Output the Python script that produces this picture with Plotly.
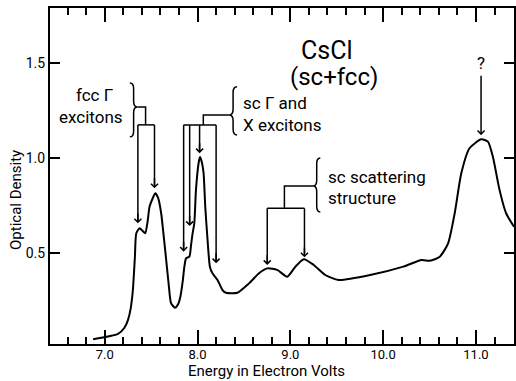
import plotly.graph_objects as go

# ---- data: CsCl optical density spectrum ----
energy = [6.875, 7.143, 7.21, 7.250, 7.280, 7.303, 7.325, 7.340, 7.375, 7.41, 7.436, 7.46,
          7.483, 7.51, 7.544, 7.575, 7.608, 7.635, 7.662, 7.69, 7.715, 7.758, 7.79, 7.815,
          7.84, 7.858, 7.876, 7.912, 7.93, 7.947, 7.965, 7.983, 8.011, 8.026, 8.045, 8.065,
          8.083, 8.108, 8.133, 8.161, 8.215, 8.269, 8.305, 8.43, 8.555, 8.662, 8.751, 8.858,
          8.966, 9.055, 9.145, 9.252, 9.377, 9.52, 9.86, 10.217, 10.413, 10.503, 10.61, 10.70,
          10.771, 10.842, 10.93, 11.057, 11.129, 11.182, 11.254, 11.325, 11.41]
density = [0.046, 0.074, 0.105, 0.147, 0.21, 0.305, 0.48, 0.604, 0.630, 0.615, 0.604, 0.66,
           0.744, 0.78, 0.814, 0.79, 0.709, 0.59, 0.463, 0.33, 0.235, 0.212, 0.23, 0.270,
           0.35, 0.428, 0.472, 0.481, 0.542, 0.604, 0.656, 0.832, 0.972, 1.005, 0.98, 0.92,
           0.744, 0.568, 0.428, 0.393, 0.358, 0.305, 0.291, 0.291, 0.34, 0.393, 0.419, 0.411,
           0.375, 0.428, 0.467, 0.437, 0.384, 0.358, 0.384, 0.428, 0.463, 0.459, 0.48, 0.551,
           0.709, 0.919, 1.051, 1.098, 1.086, 1.007, 0.832, 0.709, 0.638]

x_ticks = [7.0, 8.0, 9.0, 10.0, 11.0]
x_ticklabels = ["7.0", "8.0", "9.0", "10.0", "11.0"]
y_ticks = [0.5, 1.0, 1.5]
y_ticklabels = ["0.5", "1.0", "1.5"]

# annotation groups: arrow x positions, arrow tip heights
fcc_arrow_x = [7.357, 7.536]
fcc_arrow_tip = [0.656, 0.84]
scgx_arrow_x = [7.85, 7.915, 8.022, 8.200]
scgx_arrow_tip = [0.507, 0.642, 1.025, 0.446]
scat_arrow_x = [8.751, 9.152]
scat_arrow_tip = [0.437, 0.477]

FONT = "Roboto"
BLACK = "black"

fig = go.Figure()
fig.add_trace(go.Scatter(x=energy, y=density, mode="lines",
                         line=dict(color=BLACK, width=2, shape="spline", smoothing=0.6),
                         hoverinfo="skip", showlegend=False))


def add_group(arrow_x, arrow_tip, bar_y, join_x, join_y, brace_tip_x,
              brace_body_x, brace_y0, brace_y1):
    # bar
    fig.add_trace(go.Scatter(x=[min(arrow_x), max(arrow_x)], y=[bar_y, bar_y], mode="lines",
                             line=dict(color=BLACK, width=1.5), hoverinfo="skip",
                             showlegend=False))
    # junction to brace
    fig.add_trace(go.Scatter(x=[join_x, join_x, brace_tip_x], y=[bar_y, join_y, join_y],
                             mode="lines", line=dict(color=BLACK, width=1.5),
                             hoverinfo="skip", showlegend=False))
    # vertical arrows
    for ax_, tip in zip(arrow_x, arrow_tip):
        fig.add_trace(go.Scatter(x=[ax_, ax_], y=[bar_y, tip + 0.01], mode="lines",
                                 line=dict(color=BLACK, width=1.5), hoverinfo="skip",
                                 showlegend=False))
        fig.add_annotation(x=ax_, y=tip, ax=ax_, ay=tip + 0.06, axref="x", ayref="y",
                           xref="x", yref="y", text="", showarrow=True, arrowhead=4,
                           arrowsize=0.9, arrowwidth=1.5, arrowcolor=BLACK, standoff=0)
    # brace
    w = brace_tip_x - brace_body_x
    h = 0.03
    xb, yt = brace_body_x, join_y
    path = (f"M{xb - w},{brace_y1} Q{xb},{brace_y1} {xb},{brace_y1 - h} "
            f"L{xb},{yt + h} Q{xb},{yt} {xb + w},{yt} "
            f"Q{xb},{yt} {xb},{yt - h} L{xb},{brace_y0 + h} "
            f"Q{xb},{brace_y0} {xb - w},{brace_y0}")
    fig.add_shape(type="path", path=path, xref="x", yref="y",
                  line=dict(color=BLACK, width=1.5))


add_group(fcc_arrow_x, fcc_arrow_tip, 1.174, 7.44, 1.268, 7.352, 7.311, 1.111, 1.395)
add_group(scgx_arrow_x, scgx_arrow_tip, 1.174, 8.062, 1.226, 8.34, 8.383, 1.121, 1.374)
add_group(scat_arrow_x, scat_arrow_tip, 0.735, 8.936, 0.853, 9.245, 9.284, 0.716, 1.0)

# "?" arrow
fig.add_annotation(x=11.055, y=1.12, ax=11.055, ay=1.44, axref="x", ayref="y",
                   xref="x", yref="y", text="", showarrow=True, arrowhead=4,
                   arrowsize=0.9, arrowwidth=1.5, arrowcolor=BLACK, standoff=0)


def label(text, x, y, size=17, xanchor="left", **kw):
    fig.add_annotation(x=x, y=y, xref="x", yref="y", text=text, showarrow=False,
                       xanchor=xanchor, yanchor="middle",
                       font=dict(family=FONT, size=size, color=BLACK), **kw)


label("fcc Γ", 7.107, 1.33, xanchor="right")
label("excitons", 7.214, 1.215, xanchor="right")
label("sc Γ and", 8.469, 1.289)
label("X excitons", 8.469, 1.174)
label("sc scattering", 9.381, 0.90)
label("structure", 9.381, 0.789)
label("CsCl", 9.391, 1.563, size=25, xanchor="center")
label("(sc+fcc)", 9.466, 1.426, size=24, xanchor="center")
label("?", 11.055, 1.50, size=17, xanchor="center")

# axis titles
fig.add_annotation(x=0.466, y=-0.110, xref="paper", yref="paper", text="Energy in Electron Volts",
                   showarrow=False, xanchor="center", yanchor="bottom", borderpad=0,
                   font=dict(family=FONT, size=15, color=BLACK))
fig.add_annotation(x=-0.073, y=0.429, xref="paper", yref="paper", text="Optical Density",
                   showarrow=False, xanchor="center", yanchor="middle", textangle=-90,
                   font=dict(family=FONT, size=15, color=BLACK))

fig.update_xaxes(range=[6.41, 11.41], tickvals=x_ticks, ticktext=x_ticklabels,
                 ticks="inside", ticklen=14, tickwidth=1.5, tickcolor=BLACK,
                 ticklabelstandoff=-3,
                 minor=dict(ticks="inside", dtick=0.2, tick0=6.4, ticklen=7, tickwidth=1.5,
                            tickcolor=BLACK),
                 showline=True, linecolor=BLACK, linewidth=2, mirror="allticks",
                 showgrid=False, zeroline=False,
                 tickfont=dict(family=FONT, size=13, color=BLACK))
fig.update_yaxes(range=[0.021, 1.789], tickvals=y_ticks, ticktext=y_ticklabels,
                 ticks="inside", ticklen=10, tickwidth=1.5, tickcolor=BLACK,
                 showline=True, linecolor=BLACK, linewidth=2, mirror="allticks",
                 showgrid=False, zeroline=False,
                 tickfont=dict(family=FONT, size=14, color=BLACK))

fig.update_layout(width=516, height=381, margin=dict(l=50, r=0, t=8, b=37),
                  paper_bgcolor="white", plot_bgcolor="white", showlegend=False)

fig.write_html("out.html")
